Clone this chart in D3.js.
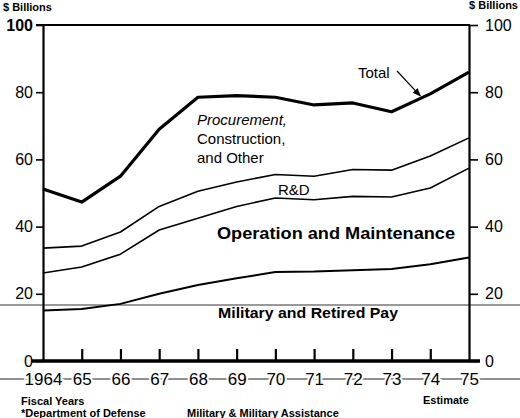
<!DOCTYPE html>
<html>
<head>
<meta charset="utf-8">
<script src="https://cdn.jsdelivr.net/npm/d3@7"></script>
<style>
  body { margin: 0; background: #fff; }
  svg { display: block; font-family: "Liberation Sans", Arial, sans-serif; }
</style>
</head>
<body>
<svg id="chart" width="520" height="418"></svg>
<script>
// fiscal years 1964-1975 (1975 = estimate)
const years = ["1964", "65", "66", "67", "68", "69", "70", "71", "72", "73", "74", "75"];
const yTicks = [0, 20, 40, 60, 80, 100];

// cumulative tops of each band, $ billions
const milPay  = [15, 15.5, 17, 20, 22.6, 24.6, 26.5, 26.6, 27, 27.4, 28.8, 30.8];
const opMaint = [26.2, 28, 31.8, 39, 42.5, 46, 48.5, 48, 49, 48.8, 51.5, 57.4];
const rnd     = [33.6, 34.2, 38.4, 46, 50.5, 53.3, 55.5, 55, 57, 56.8, 61, 66.4];
const total   = [51.2, 47.3, 55, 69, 78.5, 79, 78.5, 76.2, 76.8, 74.2, 79.5, 86];

const svg = d3.select("#chart");

let x = d3.scaleLinear().domain([0, years.length - 1]).range([43, 469]);
let y = d3.scaleLinear().domain([0, 100]).range([361, 25]);

// faint scan lines across the page
svg.append("line").attr("x1", 0).attr("x2", 520).attr("y1", 305).attr("y2", 305)
  .attr("stroke", "#333").attr("stroke-width", 1);
svg.append("line").attr("x1", 0).attr("x2", 520).attr("y1", 379).attr("y2", 379)
  .attr("stroke", "#222").attr("stroke-width", 1);

// series lines
const line = d3.line().x((d, i) => x(i)).y(d => y(d));
const series = [
  { vals: milPay,  w: 2 },
  { vals: opMaint, w: 1.6 },
  { vals: rnd,     w: 1.6 },
  { vals: total,   w: 3.2 }
];
svg.selectAll("path.series")
  .data(series)
  .enter().append("path")
  .attr("class", "series")
  .attr("fill", "none")
  .attr("stroke", "#000")
  .attr("stroke-linejoin", "round")
  .attr("stroke-width", d => d.w)
  .attr("d", d => line(d.vals));

// left axis
let gl = svg.append("g").attr("transform", "translate(43,0)")
  .call(d3.axisLeft(y).tickValues(yTicks).tickSize(7).tickPadding(3).tickSizeOuter(0));
// right axis
let gr = svg.append("g").attr("transform", "translate(469,0)")
  .call(d3.axisRight(y).tickValues(yTicks).tickSize(9).tickPadding(7).tickSizeOuter(0));
[gl, gr].forEach(g => {
  g.select(".domain").attr("stroke-width", 2.2);
  g.selectAll(".tick line").attr("stroke-width", 1.6);
  g.selectAll("text").attr("font-size", 16).attr("fill", "#000")
    .attr("font-family", "Liberation Sans, Arial, sans-serif");
});
gl.selectAll(".tick text").filter(d => d === 100).attr("font-weight", "bold");

// top border
svg.append("line").attr("x1", 36).attr("x2", 470).attr("y1", y(100)).attr("y2", y(100))
  .attr("stroke", "#000").attr("stroke-width", 2);

// bottom axis: ticks point up, labels below
let gb = svg.append("g").attr("transform", "translate(0," + y(0) + ")")
  .call(d3.axisBottom(x).tickValues(d3.range(years.length))
    .tickFormat(i => years[i]).tickSize(-12).tickPadding(12).tickSizeOuter(0));
gb.select(".domain").remove();
gb.selectAll(".tick line").attr("stroke-width", 2.2)
  .attr("opacity", d => (d === 0 || d === years.length - 1) ? 0 : 1);
gb.selectAll("text").attr("font-size", 17).attr("fill", "#000")
  .attr("font-family", "Liberation Sans, Arial, sans-serif")
  .attr("stroke", "#fff").attr("stroke-width", 4).attr("paint-order", "stroke");
svg.append("line").attr("x1", 32).attr("x2", 480).attr("y1", y(0)).attr("y2", y(0))
  .attr("stroke", "#000").attr("stroke-width", 3.5);

// units
svg.append("text").attr("x", 3).attr("y", 11).attr("font-size", 11).attr("font-weight", "bold")
  .text("$ Billions");
svg.append("text").attr("x", 518).attr("y", 9).attr("font-size", 11).attr("font-weight", "bold")
  .attr("text-anchor", "end").text("$ Billions");

// band labels
svg.append("text").attr("x", 197).attr("y", 125).attr("font-size", 15).attr("font-style", "italic")
  .text("Procurement,");
svg.append("text").attr("x", 197).attr("y", 144).attr("font-size", 15).text("Construction,");
svg.append("text").attr("x", 197).attr("y", 163).attr("font-size", 15).text("and Other");
svg.append("text").attr("x", 278).attr("y", 195).attr("font-size", 15).text("R&D");
svg.append("text").attr("x", 217).attr("y", 239).attr("font-size", 16).attr("font-weight", "bold")
  .attr("textLength", 238).attr("lengthAdjust", "spacingAndGlyphs").text("Operation and Maintenance");
svg.append("text").attr("x", 218).attr("y", 318).attr("font-size", 15).attr("font-weight", "bold")
  .attr("textLength", 180).attr("lengthAdjust", "spacingAndGlyphs").text("Military and Retired Pay");

// Total callout with arrow
svg.append("defs").append("marker")
  .attr("id", "arr").attr("viewBox", "0 0 10 10").attr("refX", 9).attr("refY", 5)
  .attr("markerWidth", 7).attr("markerHeight", 7).attr("orient", "auto")
  .append("path").attr("d", "M0,1 L10,5 L0,9 z").attr("fill", "#000");
svg.append("text").attr("x", 358).attr("y", 78).attr("font-size", 15).text("Total");
svg.append("line").attr("x1", 397).attr("y1", 71).attr("x2", x(10) - 10).attr("y2", y(total[10]) + 2)
  .attr("stroke", "#000").attr("stroke-width", 1.2).attr("marker-end", "url(#arr)");

// footer
svg.append("text").attr("x", 21).attr("y", 405).attr("font-size", 11).attr("font-weight", "bold")
  .text("Fiscal Years");
svg.append("text").attr("x", 423).attr("y", 404).attr("font-size", 11).attr("font-weight", "bold")
  .text("Estimate");
svg.append("text").attr("x", 21).attr("y", 417).attr("font-size", 11).attr("font-weight", "bold")
  .text("*Department of Defense");
svg.append("text").attr("x", 187).attr("y", 417).attr("font-size", 11).attr("font-weight", "bold")
  .text("Military & Military Assistance");
</script>
</body>
</html>
